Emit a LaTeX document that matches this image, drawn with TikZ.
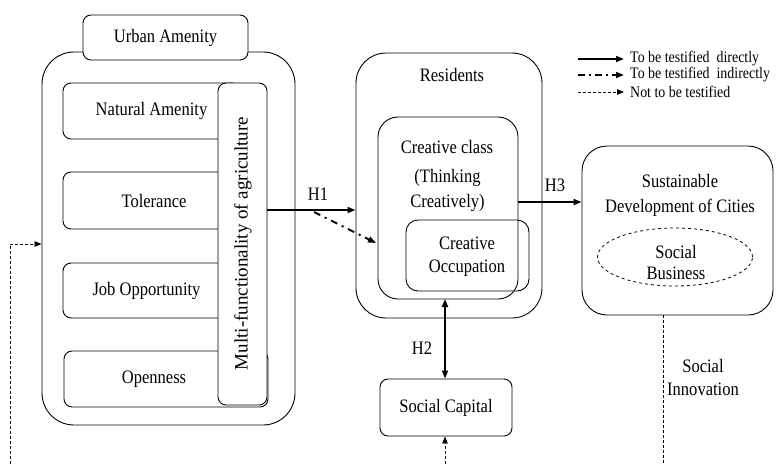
\documentclass[tikz,border=0pt]{standalone}
\usepackage{fontspec}
\setmainfont{Liberation Serif}
\newfontfamily\condfont[FakeStretch=0.87]{Liberation Serif}
\usetikzlibrary{arrows.meta,shapes.geometric}
\begin{document}
\begin{tikzpicture}[x=1pt,y=-1pt,
  every node/.style={font=\condfont\fontsize{19}{23}\selectfont},
  box/.style={draw,line width=0.9pt,rounded corners=#1,inner sep=0pt},
  box/.default=8pt,
  txt/.style={inner sep=0pt,align=center},
  direct/.style={line width=1.8pt,-{Triangle[length=8pt,width=6pt]}},
  indirect/.style={line width=1.8pt,dash pattern=on 7pt off 5pt on 2pt off 5pt,-{Triangle[length=8pt,width=6pt]}},
  notest/.style={line width=0.8pt,dash pattern=on 3pt off 2pt,-{Triangle[length=7pt,width=5.5pt]}},
  leg/.style={txt,anchor=west,font=\condfont\fontsize{16}{18}\selectfont}]
\useasboundingbox (0,0) rectangle (776,464);

% Urban amenity group
\node[box=32pt,minimum width=253pt,minimum height=373pt] (outer) at (168.5,238.5) {};
\node[box,fill=white,minimum width=165pt,minimum height=45pt] (tab) at (165.5,37.5) {Urban Amenity};
\node[box,minimum width=177pt,minimum height=56pt] (nat) at (151.5,111) {Natural Amenity};
\node[box,minimum width=182pt,minimum height=57pt] (tol) at (154,200.5) {Tolerance};
\node[box,minimum width=167pt,minimum height=55pt] (job) at (146.5,290.5) {Job Opportunity};
\node[box,minimum width=204pt,minimum height=56pt] (open) at (166,379) {};
\node[txt] (opent) at (154,379) {Openness};
\node[box,fill=white,minimum width=49pt,minimum height=322pt] (multi) at (242.5,244) {};
\node[txt,rotate=90,font=\rmfamily\fontsize{19}{22}\selectfont] (multit) at (243,243.5) {Multi-functionality of agriculture};

% Residents group
\node[box=30pt,minimum width=186pt,minimum height=265pt] (res) at (449,185.5) {};
\node[txt] (rest) at (452,75) {Residents};
\node[box=20pt,minimum width=140pt,minimum height=182pt] (cc) at (448,208) {};
\node[txt] (cct) at (447,147) {Creative class};
\node[txt,font=\condfont\fontsize{19}{25}\selectfont] (think) at (447.5,190.5) {(Thinking\\Creatively)};
\node[box=12pt,minimum width=123pt,minimum height=71pt] (occ) at (467.5,255.5) {};
\node[txt] (occt) at (467,256.5) {Creative\\Occupation};

% Sustainable development
\node[box=25pt,minimum width=191pt,minimum height=169pt] (sus) at (677.5,230.5) {};
\node[txt,font=\condfont\fontsize{19}{25}\selectfont] (sust) at (680,195.5) {Sustainable\\Development of Cities};
\node[ellipse,draw,dashed,line width=0.8pt,minimum width=155pt,minimum height=58pt,inner sep=0pt] (biz) at (675,257) {};
\node[txt,font=\condfont\fontsize{19}{21}\selectfont] (bizt) at (676,262) {Social\\Business};

% Social capital
\node[box,minimum width=132pt,minimum height=57pt] (cap) at (446,407.5) {Social Capital};

% connectors
\coordinate (h1) at (0,210);
\draw[direct] (multi.east |- h1) -- (res.west |- h1);
\node[txt] (h1t) at (318,194) {H1};
\coordinate (ind1) at (314,212);
\coordinate (ind2) at (376,243);
\draw[indirect] (ind1) -- (ind2);
\coordinate (h3) at (0,202);
\draw[direct] (cc.east |- h3) -- (sus.west |- h3);
\node[txt] (h3t) at (555,185) {H3};
\coordinate (h2top) at (445,299);
\draw[line width=1.8pt,{Triangle[length=8pt,width=6pt]}-{Triangle[length=8pt,width=6pt]}] (h2top) -- (h2top |- cap.north);
\node[txt] (h2t) at (422,348) {H2};

\coordinate (capin) at (445,464);
\draw[notest] (capin) -- (capin |- cap.south);
\coordinate (lb) at (10,464);
\coordinate (lt) at (10,244);
\draw[notest] (lb) -- (lt) -- (outer.west |- lt);
\coordinate (rb) at (663,464);
\draw[line width=0.8pt,dash pattern=on 3pt off 2pt] (sus.south -| rb) -- (rb);
\node[txt] (soc) at (703,377.5) {Social\\Innovation};

% legend
\coordinate (l1a) at (578,59); \coordinate (l1b) at (624,59);
\draw[direct] (l1a) -- (l1b);
\node[leg] (lt1) at (630,59) {To be testified\ \ directly};
\coordinate (l2a) at (578,75); \coordinate (l2b) at (624,75);
\draw[indirect,dash pattern=on 7pt off 4pt on 2pt off 4pt] (l2a) -- (l2b);
\node[leg] (lt2) at (630,75) {To be testified\ \ indirectly};
\coordinate (l3a) at (578,92); \coordinate (l3b) at (624,92);
\draw[notest] (l3a) -- (l3b);
\node[leg] (lt3) at (630,92) {Not to be testified};
\end{tikzpicture}
\end{document}
